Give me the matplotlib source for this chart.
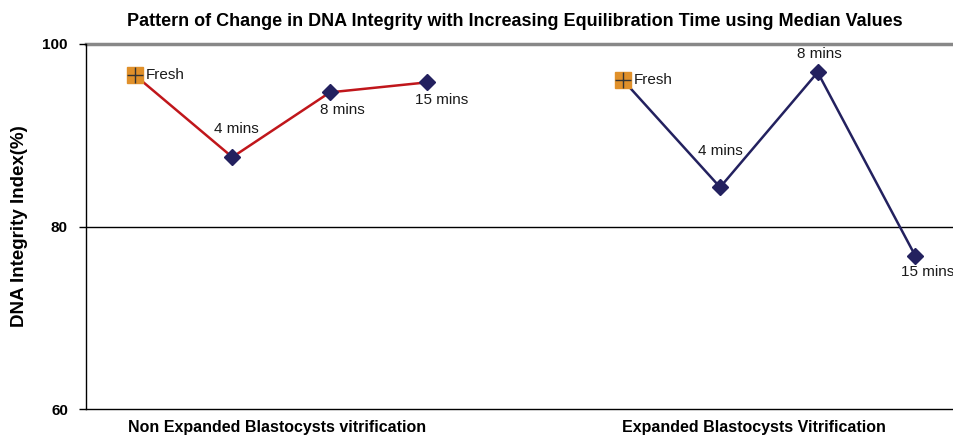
import matplotlib
matplotlib.use("Agg")
import matplotlib.pyplot as plt

plt.rcParams['font.family'] = ['Liberation Sans', 'DejaVu Sans']

# data (median DNA integrity index, %)
time_labels = ['Fresh', '4 mins', '8 mins', '15 mins']
non_expanded = [96.6, 87.6, 94.7, 95.8]
expanded = [96.1, 84.3, 96.9, 76.8]
group_labels = ['Non Expanded Blastocysts vitrification', 'Expanded Blastocysts Vitrification']
x_non = [0, 1, 2, 3]
x_exp = [5, 6, 7, 8]

red = '#c0161b'
navy = '#23215f'
orange = '#e0902a'

fig = plt.figure(figsize=(9.54, 4.36), dpi=100)
ax = fig.add_axes([86 / 954, 27 / 436, 878 / 954, 365 / 436])

for xs, ys, col in [(x_non, non_expanded, red), (x_exp, expanded, navy)]:
    ax.plot(xs, ys, color=col, lw=1.8, zorder=2)
    ax.plot(xs[1:], ys[1:], 'D', color=navy, ms=8, zorder=3)
    ax.plot(xs[0], ys[0], 's', color=orange, ms=11, zorder=3)
    ax.plot(xs[0], ys[0], '+', color='#333333', ms=11, mew=1, zorder=4)

# point labels: (dx, dy in points, ha)
offsets_non = [(8, 0, 'left'), (3, 20, 'center'), (9, -13, 'center'), (10, -13, 'center')]
offsets_exp = [(8, 0, 'left'), (0, 26, 'center'), (1.5, 13, 'center'), (-10.5, -12, 'left')]
for xs, ys, offs in [(x_non, non_expanded, offsets_non), (x_exp, expanded, offsets_exp)]:
    for i, (lab, (dx, dy, ha)) in enumerate(zip(time_labels, offs)):
        ax.annotate(lab, (xs[i], ys[i]), xytext=(dx, dy), textcoords='offset points',
                    ha=ha, va='center', fontsize=11, color='#1a1a1a', zorder=5)

ax.set_xlim(-0.5, 8.5)
ax.set_ylim(60, 100)
ax.set_yticks([60, 80, 100])
ax.set_yticklabels(['60', '80', '100'], fontweight='bold', fontsize=11)
ax.tick_params(axis='y', length=5, width=1, pad=8)
ax.set_xticks([])

ax.axhline(80, color='black', lw=1, zorder=1)
ax.axhline(100, color='#888888', lw=2.5, zorder=1, clip_on=False)

for s in ['top', 'right']:
    ax.spines[s].set_visible(False)
ax.spines['left'].set_linewidth(1)
ax.spines['bottom'].set_linewidth(1)

fig.text(277 / 954, 9 / 436, group_labels[0], ha='center', va='center',
         fontsize=11.5, fontweight='bold')
fig.text(754 / 954, 9 / 436, group_labels[1], ha='center', va='center',
         fontsize=11.5, fontweight='bold')

fig.text(515 / 954, 1 - 21 / 436,
         'Pattern of Change in DNA Integrity with Increasing Equilibration Time using Median Values',
         ha='center', va='center', fontsize=13, fontweight='bold')
fig.text(20 / 954, 1 - 226 / 436, 'DNA Integrity Index(%)', rotation=90,
         ha='center', va='center', fontsize=13.5, fontweight='bold')

fig.savefig('out.png', dpi=100)
